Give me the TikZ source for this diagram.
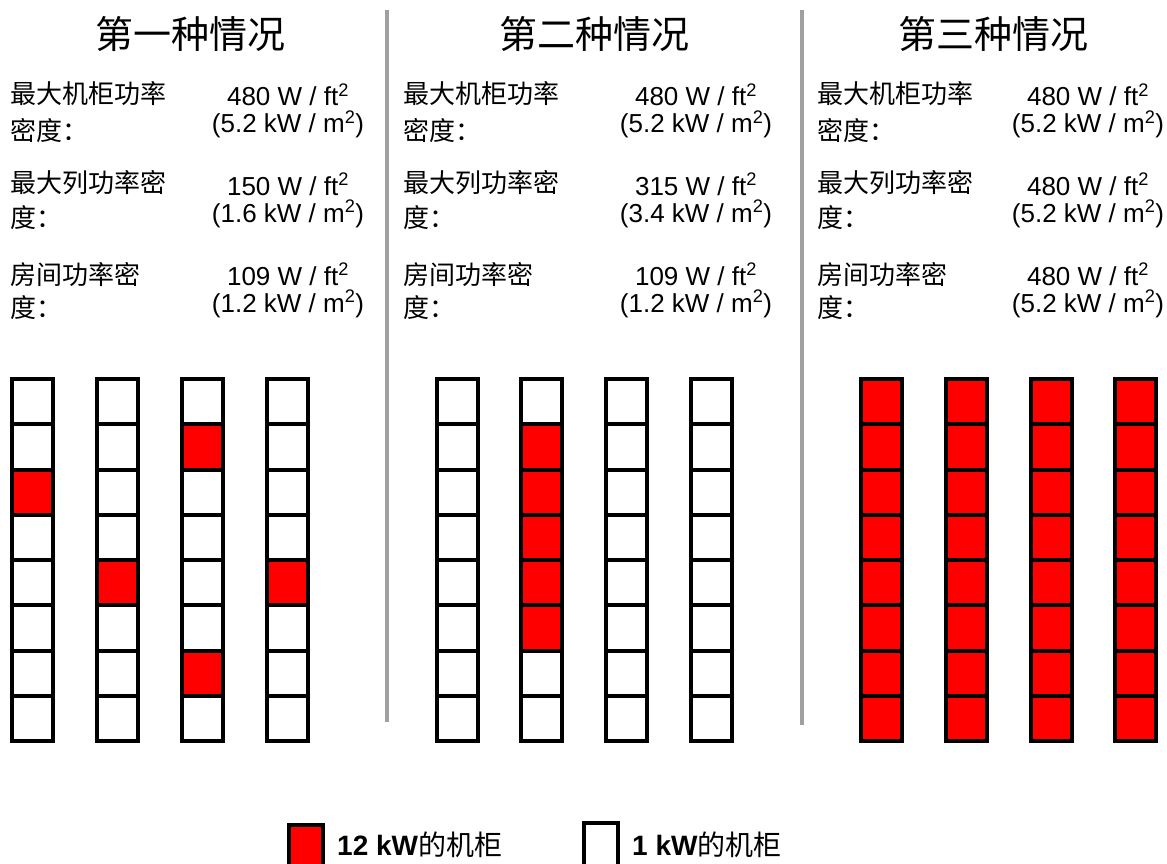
\documentclass[tikz,border=0pt]{standalone}
\usepackage{fontspec}
\setmainfont{Liberation Sans}
\newfontfamily\cjk{Noto Sans CJK SC}
\definecolor{sepgray}{HTML}{A0A0A0}
\tikzset{
  ttl/.style={font=\cjk\fontsize{38}{40}\selectfont, inner sep=0pt},
  lab/.style={font=\cjk\fontsize{26}{28}\selectfont, anchor=west, inner sep=0pt},
  val/.style={font=\fontsize{26}{28}\selectfont, anchor=base, inner sep=0pt},
  cellw/.style={draw=black, line width=4pt, fill=white, minimum width=41pt, minimum height=45.25pt, inner sep=0pt, outer sep=0pt},
  cellr/.style={cellw, fill=red},
  sepline/.style={draw=sepgray, line width=4pt},
  legtxt/.style={font=\fontsize{28}{30}\selectfont\bfseries, anchor=base west, inner sep=0pt},
}
\begin{document}
\begin{tikzpicture}[x=1pt,y=-1pt]
\useasboundingbox (0,0) rectangle (1167,864);
\clip (0,0) rectangle (1167,864);

% titles
\node[ttl] (t1) at (190,34) {第一种情况};
\node[ttl] (t2) at (594,34) {第二种情况};
\node[ttl] (t3) at (993,34) {第三种情况};

% labels
\foreach \p/\lx in {1/10,2/403,3/817}{
  \node[lab] (p\p-l1a) at (\lx,94) {最大机柜功率};
  \node[lab] (p\p-l1b) at (\lx,130) {密度：};
  \node[lab] (p\p-l2a) at (\lx,183) {最大列功率密};
  \node[lab] (p\p-l2b) at (\lx,218) {度：};
  \node[lab] (p\p-l3a) at (\lx,275) {房间功率密};
  \node[lab] (p\p-l3b) at (\lx,308) {度：};
}

% values
\foreach \p/\vx/\aa/\ab/\ba/\bb/\ca/\cb in {
  1/288/480/5.2/150/1.6/109/1.2,
  2/696/480/5.2/315/3.4/109/1.2,
  3/1088/480/5.2/480/5.2/480/5.2}{
  \node[val] (p\p-v1a) at (\vx,106) {\aa\ W / ft\textsuperscript{2}};
  \node[val] (p\p-v1b) at (\vx,133) {(\ab\ kW / m\textsuperscript{2})};
  \node[val] (p\p-v2a) at (\vx,195) {\ba\ W / ft\textsuperscript{2}};
  \node[val] (p\p-v2b) at (\vx,222) {(\bb\ kW / m\textsuperscript{2})};
  \node[val] (p\p-v3a) at (\vx,285) {\ca\ W / ft\textsuperscript{2}};
  \node[val] (p\p-v3b) at (\vx,312) {(\cb\ kW / m\textsuperscript{2})};
}

% separators
\coordinate (s1a) at (387,10);
\coordinate (s1b) at (387,722);
\coordinate (s2a) at (802,10);
\coordinate (s2b) at (802,725);
\draw[sepline] (s1a) -- (s1b);
\draw[sepline] (s2a) -- (s2b);

% red exceptions
\foreach \k in {a1-2,a2-4,a3-1,a3-6,a4-4,b2-1,b2-2,b2-3,b2-4,b2-5}{
  \expandafter\gdef\csname redcell@\k\endcsname{}
}

% cabinets
\foreach \nm/\x/\st in {
  a1/32.5/cellw, a2/117/cellw, a3/202/cellw, a4/287/cellw,
  b1/457/cellw, b2/541/cellw, b3/626/cellw, b4/711/cellw,
  c1/881/cellr, c2/966/cellr, c3/1051/cellr, c4/1135.5/cellr}{
  \foreach \r in {0,...,7}{
    \ifcsname redcell@\nm-\r\endcsname
      \node[cellr] (\nm-\r) at (\x,{379+45.25*(\r+0.5)}) {};
    \else
      \node[\st] (\nm-\r) at (\x,{379+45.25*(\r+0.5)}) {};
    \fi
  }
}

% legend
\node[cellr, minimum width=34pt, minimum height=44pt] (legred) at (306,847) {};
\node[cellw, minimum width=34pt, minimum height=44pt] (legwhite) at (601,845) {};
\node[legtxt] (legredtxt) at (337,855) {12 kW{\cjk\mdseries 的机柜}};
\node[legtxt] (legwhitetxt) at (632,855) {1 kW{\cjk\mdseries 的机柜}};
\end{tikzpicture}
\end{document}
